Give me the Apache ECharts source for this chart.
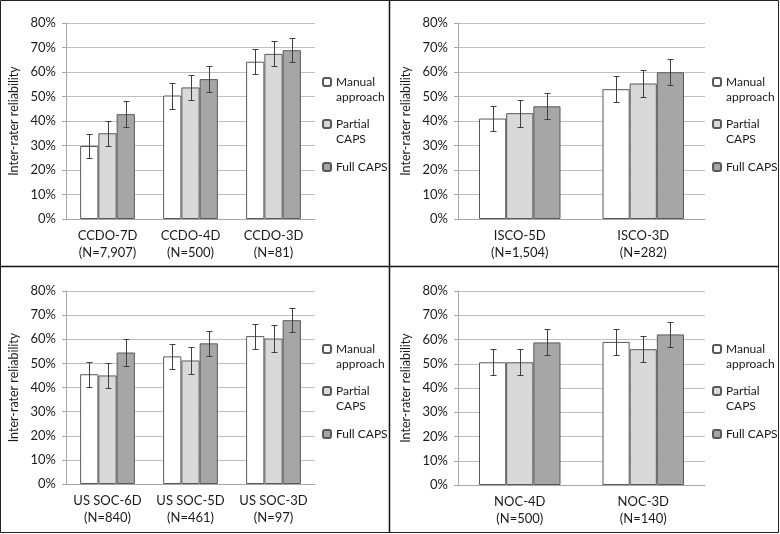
<!DOCTYPE html>
<html>
<head>
<meta charset="utf-8">
<script src="https://cdn.jsdelivr.net/npm/echarts@6/dist/echarts.min.js"></script>
<style>
html, body { margin: 0; padding: 0; background: #fff; }
#chart { width: 780px; height: 534px; }
</style>
</head>
<body>
<div id="chart"></div>
<script>
// series names, shared by all four panels
let seriesNames = ["Manual approach", "Partial CAPS", "Full CAPS"];
let seriesColors = ["#ffffff", "#d9d9d9", "#a6a6a6"];

// CCDO (top left)
let ccdoCats = ["CCDO-7D\n(N=7,907)", "CCDO-4D\n(N=500)", "CCDO-3D\n(N=81)"];
let ccdoManual = [29.8, 50.4, 64.2];
let ccdoPartial = [35.0, 53.7, 67.4];
let ccdoFull = [42.8, 57.1, 68.9];
let ccdoManualErr = [5.0, 5.3, 5.1];
let ccdoPartialErr = [5.2, 5.25, 5.1];
let ccdoFullErr = [5.3, 5.3, 4.9];

// ISCO (top right)
let iscoCats = ["ISCO-5D\n(N=1,504)", "ISCO-3D\n(N=282)"];
let iscoManual = [41.0, 53.0];
let iscoPartial = [43.2, 55.3];
let iscoFull = [46.0, 59.9];
let iscoManualErr = [5.2, 5.4];
let iscoPartialErr = [5.5, 5.35];
let iscoFullErr = [5.3, 5.3];

// US SOC (bottom left)
let socCats = ["US SOC-6D\n(N=840)", "US SOC-5D\n(N=461)", "US SOC-3D\n(N=97)"];
let socManual = [45.5, 52.9, 61.3];
let socPartial = [45.0, 51.2, 60.3];
let socFull = [54.5, 58.3, 67.9];
let socManualErr = [5.25, 5.3, 5.2];
let socPartialErr = [5.3, 5.4, 5.4];
let socFullErr = [5.45, 5.25, 5.1];

// NOC (bottom right)
let nocCats = ["NOC-4D\n(N=500)", "NOC-3D\n(N=140)"];
let nocManual = [50.6, 59.0];
let nocPartial = [50.6, 56.0];
let nocFull = [58.8, 62.1];
let nocManualErr = [5.35, 5.25];
let nocPartialErr = [5.35, 5.35];
let nocFullErr = [5.35, 5.3];

// y axis ticks
let yMin = 0;
let yMax = 80;
let yStep = 10;

let panels = [
	{ cats: ccdoCats, values: [ccdoManual, ccdoPartial, ccdoFull], errs: [ccdoManualErr, ccdoPartialErr, ccdoFullErr], ox: 0, oy: 0, left: 66, top: 23, width: 249, height: 196 },
	{ cats: iscoCats, values: [iscoManual, iscoPartial, iscoFull], errs: [iscoManualErr, iscoPartialErr, iscoFullErr], ox: 390, oy: 0, left: 458, top: 23, width: 247, height: 196 },
	{ cats: socCats, values: [socManual, socPartial, socFull], errs: [socManualErr, socPartialErr, socFullErr], ox: 0, oy: 267, left: 66, top: 291, width: 249, height: 193 },
	{ cats: nocCats, values: [nocManual, nocPartial, nocFull], errs: [nocManualErr, nocPartialErr, nocFullErr], ox: 390, oy: 267, left: 458, top: 291, width: 247, height: 194 }
];

let fontFam = "Lato";
let textColor = "#1a1a1a";
let catGap = 0.34;

let grids = [], xAxes = [], yAxes = [], series = [], legends = [];

panels.forEach(function(p, pi) {
	grids.push({ left: p.left, top: p.top, width: p.width, height: p.height });
	xAxes.push({
		type: "category",
		gridIndex: pi,
		data: p.cats,
		axisLine: { lineStyle: { color: "#a6a6a6", width: 1 } },
		axisTick: { show: false },
		axisLabel: { color: textColor, fontFamily: fontFam, fontSize: 13, lineHeight: 17, margin: 8, interval: 0 }
	});
	yAxes.push({
		type: "value",
		gridIndex: pi,
		min: yMin,
		max: yMax,
		interval: yStep,
		name: "Inter-rater reliability",
		nameLocation: "middle",
		nameGap: 46,
		nameTextStyle: { color: textColor, fontFamily: fontFam, fontSize: 12.5 },
		axisLine: { show: true, lineStyle: { color: "#a6a6a6", width: 1 } },
		axisTick: { show: true, length: 4, lineStyle: { color: "#a6a6a6" } },
		axisLabel: { formatter: "{value}%", color: textColor, fontFamily: fontFam, fontSize: 13, margin: 10 },
		splitLine: { lineStyle: { color: "#bfbfbf", width: 1 } }
	});

	seriesNames.forEach(function(name, si) {
		series.push({
			name: name,
			type: "bar",
			xAxisIndex: pi,
			yAxisIndex: pi,
			data: p.values[si],
			barGap: "0%",
			barCategoryGap: (catGap * 100) + "%",
			itemStyle: { color: seriesColors[si], borderColor: "#595959", borderWidth: 1 }
		});
		// error bars
		let errData = p.values[si].map(function(v, i) { return [i, v, p.errs[si][i]]; });
		series.push({
			type: "custom",
			xAxisIndex: pi,
			yAxisIndex: pi,
			data: errData,
			z: 5,
			silent: true,
			renderItem: function(params, api) {
				let cat = api.value(0);
				let v = api.value(1);
				let e = api.value(2);
				let band = api.size([1, 0])[0];
				let barW = band * (1 - catGap) / 3;
				let x = Math.round(api.coord([cat, 0])[0] + (si - 1) * barW) + 0.5;
				let yTop = Math.round(api.coord([cat, v + e])[1]) + 0.5;
				let yBot = Math.round(api.coord([cat, v - e])[1]) + 0.5;
				let st = { stroke: "#404040", lineWidth: 1 };
				return {
					type: "group",
					children: [
						{ type: "line", shape: { x1: x, y1: yTop, x2: x, y2: yBot }, style: st },
						{ type: "line", shape: { x1: x - 3, y1: yTop, x2: x + 3, y2: yTop }, style: st },
						{ type: "line", shape: { x1: x - 3, y1: yBot, x2: x + 3, y2: yBot }, style: st }
					]
				};
			}
		});
	});

	// one legend per item; a leading blank line keeps the icon on the first text line
	let legendCenters = [82, 124, 167];
	let legendTexts = ["\nManual\napproach", "\nPartial\nCAPS", "Full CAPS"];
	seriesNames.forEach(function(name, si) {
		let nLines = legendTexts[si].split("\n").length;
		legends.push({
			data: [name],
			left: p.ox + 322,
			top: p.oy + legendCenters[si] - nLines * 15 / 2,
			padding: 0,
			itemWidth: 8,
			itemHeight: 8,
			itemGap: 3,
			selectedMode: false,
			formatter: function() { return legendTexts[si]; },
			textStyle: {
				color: textColor,
				fontFamily: fontFam,
				fontSize: 12,
				lineHeight: 15
			}
		});
	});
});

let chart = echarts.init(document.getElementById("chart"));
chart.setOption({
	backgroundColor: "#ffffff",
	animation: false,
	grid: grids,
	xAxis: xAxes,
	yAxis: yAxes,
	legend: legends,
	series: series,
	graphic: [
		{ type: "rect", shape: { x: 0.5, y: 0.5, width: 778, height: 532 }, style: { fill: "none", stroke: "#222", lineWidth: 1 }, z: 100 },
		{ type: "line", shape: { x1: 389.5, y1: 0, x2: 389.5, y2: 533 }, style: { stroke: "#111", lineWidth: 1.5 }, z: 100 },
		{ type: "line", shape: { x1: 0, y1: 266.5, x2: 779, y2: 266.5 }, style: { stroke: "#111", lineWidth: 1.5 }, z: 100 }
	]
});
</script>
</body>
</html>
